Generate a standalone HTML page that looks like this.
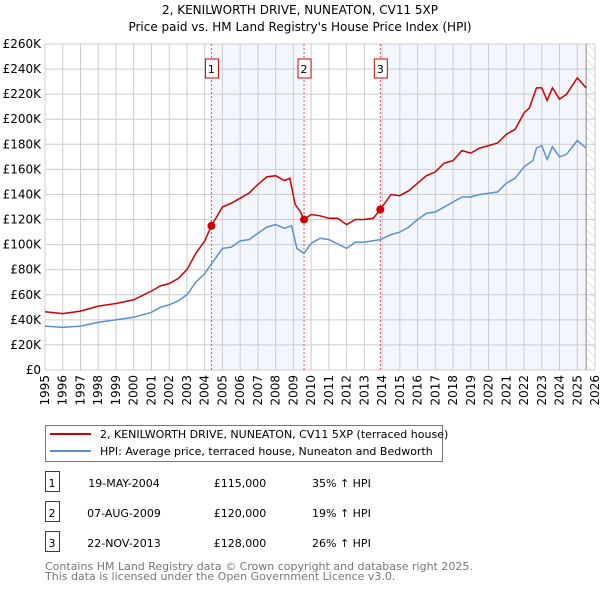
<!DOCTYPE html>
<html><head><meta charset="utf-8"><style>
body{margin:0;background:#fff;font-family:"DejaVu Sans","Liberation Sans",sans-serif}
svg text{font-family:"DejaVu Sans","Liberation Sans",sans-serif}
</style></head><body>
<svg id="c" width="600" height="590" xmlns="http://www.w3.org/2000/svg">
<defs><pattern id="hatch" width="6" height="6" patternUnits="userSpaceOnUse" patternTransform="rotate(-45)"><line x1="0" y1="0" x2="0" y2="6" stroke="#ccc" stroke-width="1"/></pattern></defs>
<text x="300" y="14" text-anchor="middle" font-size="12">2, KENILWORTH DRIVE, NUNEATON, CV11 5XP</text>
<text x="300" y="31" text-anchor="middle" font-size="12">Price paid vs. HM Land Registry's House Price Index (HPI)</text>
<g id="bg"></g><g id="grid"></g><g id="lines"></g><g id="marks"></g>
<g>
<rect x="45.5" y="425.5" width="397" height="36" fill="#fff" stroke="#777"/>
<line x1="50" y1="434" x2="91" y2="434" stroke="#cc0000" stroke-width="2"/>
<text x="100" y="438" font-size="11">2, KENILWORTH DRIVE, NUNEATON, CV11 5XP (terraced house)</text>
<line x1="50" y1="451" x2="91" y2="451" stroke="#5b8fd4" stroke-width="2"/>
<text x="100" y="455" font-size="11">HPI: Average price, terraced house, Nuneaton and Bedworth</text>
</g>
<g id="table" font-size="11"></g>
<text x="45" y="570" font-size="11" fill="#777">Contains HM Land Registry data © Crown copyright and database right 2025.</text>
<text x="45" y="580" font-size="11" fill="#777">This data is licensed under the Open Government Licence v3.0.</text>
</svg>
<script>
const hpiYears=[1995,1996,1997,1998,1999,2000,2001,2001.5,2002,2002.5,2003,2003.5,2004,2004.4,2005,2005.5,2006,2006.5,2007,2007.5,2008,2008.5,2008.9,2009.2,2009.6,2010,2010.5,2011,2012,2012.5,2013,2013.9,2014.5,2015,2015.5,2016,2016.5,2017,2017.5,2018,2018.5,2019,2019.5,2020,2020.5,2021,2021.5,2022,2022.5,2022.7,2023,2023.3,2023.6,2024,2024.4,2025,2025.5];
const hpiValues=[35,34,35,38,40,42,46,50,52,55,60,70,77,85,97,98,103,104,109,114,116,113,115,97,93,101,105,104,97,102,102,104,108,110,114,120,125,126,130,134,138,138,140,141,142,149,153,162,167,177,179,168,178,170,172,183,177];
const propYears=[1995,1996,1997,1998,1999,2000,2001,2001.5,2002,2002.5,2003,2003.5,2004,2004.38,2005,2005.5,2006,2006.5,2007,2007.5,2008,2008.5,2008.8,2009.1,2009.4,2009.6,2010,2010.5,2011,2011.5,2012,2012.5,2013,2013.5,2013.9,2014.5,2015,2015.5,2016,2016.5,2017,2017.5,2018,2018.5,2019,2019.5,2020,2020.5,2021,2021.5,2022,2022.3,2022.7,2023,2023.3,2023.6,2024,2024.4,2025,2025.5];
const propValues=[46.5,45,47,51,53,56,63,67,69,73,80,93,103,115,130,133,137,141,148,154,155,151,153,132,126,120,124,123,121,121,116,120,120,121,128,140,139,143,149,155,158,165,167,175,173,177,179,181,188,192,205,209,225,225,215,225,216,220,233,225];
const saleYears=[2004.38,2009.6,2013.9];
const saleValues=[115,120,128];
const saleLabels=["1","2","3"];
const saleDates=["19-MAY-2004","07-AUG-2009","22-NOV-2013"];
const salePrices=["£115,000","£120,000","£128,000"];
const saleDiffs=["35% ↑ HPI","19% ↑ HPI","26% ↑ HPI"];
const yTicks=[0,20,40,60,80,100,120,140,160,180,200,220,240,260];
const xTicks=[1995,1996,1997,1998,1999,2000,2001,2002,2003,2004,2005,2006,2007,2008,2009,2010,2011,2012,2013,2014,2015,2016,2017,2018,2019,2020,2021,2022,2023,2024,2025,2026];
const NS="http://www.w3.org/2000/svg";
const X0=45,X1=595,Y0=370,Y1=44;
const xs=y=>X0+(y-1995)/(2026-1995)*(X1-X0);
const ys=v=>Y0-v/260*(Y0-Y1);
function mk(p,t,a){const e=document.createElementNS(NS,t);for(const k in a)e.setAttribute(k,a[k]);p.appendChild(e);return e;}
const bg=document.getElementById('bg'),grid=document.getElementById('grid'),lines=document.getElementById('lines'),marks=document.getElementById('marks'),table=document.getElementById('table');
let r=mk(bg,'rect',{x:xs(saleYears[0]),y:Y1,width:xs(saleYears[1])-xs(saleYears[0]),height:Y0-Y1,fill:'#eef3fc',opacity:0.7});


r=mk(bg,'rect',{x:xs(saleYears[2]),y:Y1,width:xs(2025.5)-xs(saleYears[2]),height:Y0-Y1,fill:'#eef3fc',opacity:0.7});


r=mk(bg,'rect',{x:xs(2025.5),y:Y1,width:X1-xs(2025.5),height:Y0-Y1,fill:'url(#hatch)'});


yTicks.forEach(v=>{const l=mk(grid,'line',{x1:X0,x2:X1,y1:ys(v),y2:ys(v),stroke:'#ccc','stroke-width':1});


const t=mk(grid,'text',{x:X0-4,y:ys(v)+4,'text-anchor':'end','font-size':12});t.textContent=v===0?'£0':'£'+v+'K';

});
xTicks.forEach(y=>{const l=mk(grid,'line',{x1:xs(y),x2:xs(y),y1:Y1,y2:Y0,stroke:'#ccc','stroke-width':1});


const t=mk(grid,'text',{x:0,y:0,'text-anchor':'end','font-size':12,transform:`translate(${xs(y)+4},${Y0+5}) rotate(-90)`});t.textContent=y;

});
let vl=mk(grid,'line',{x1:xs(2025.5),x2:xs(2025.5),y1:Y1,y2:Y0,stroke:'#888','stroke-width':1});


saleYears.forEach((y,i)=>{const l=mk(grid,'line',{x1:xs(y),x2:xs(y),y1:Y1,y2:Y0,stroke:'#e05050','stroke-width':1,'stroke-dasharray':'2,2'});


const b=mk(marks,'rect',{x:xs(y)-6,y:59,width:13,height:19,fill:'#fff',stroke:'#cc0000'});


const t=mk(marks,'text',{x:xs(y),y:73,'text-anchor':'middle','font-size':11});t.textContent=saleLabels[i];

});
function path(xa,va){return xa.map((y,i)=>(i?'L':'M')+xs(y).toFixed(1)+','+ys(va[i]).toFixed(1)).join('');}
let p=mk(lines,'path',{d:path(hpiYears,hpiValues),fill:'none',stroke:'#5b8fd4','stroke-width':1.5});


p=mk(lines,'path',{d:path(propYears,propValues),fill:'none',stroke:'#cc0000','stroke-width':1.5});


saleYears.forEach((y,i)=>{const c=mk(marks,'circle',{cx:xs(y),cy:ys(saleValues[i]),r:4,fill:'#cc0000'});


const ry=483+i*30;
const b=mk(table,'rect',{x:45.5,y:ry-11.5,width:14,height:20,fill:'#fff',stroke:'#cc0000'});


const cells=[[52,saleLabels[i],'middle'],[124,saleDates[i],'middle'],[240,salePrices[i],'middle'],[312,saleDiffs[i],'start']];
cells.forEach((c2,j)=>{const t=mk(table,'text',{x:c2[0],y:ry+4,'text-anchor':c2[2]});t.textContent=c2[1];

});});
</script>
</body></html>
